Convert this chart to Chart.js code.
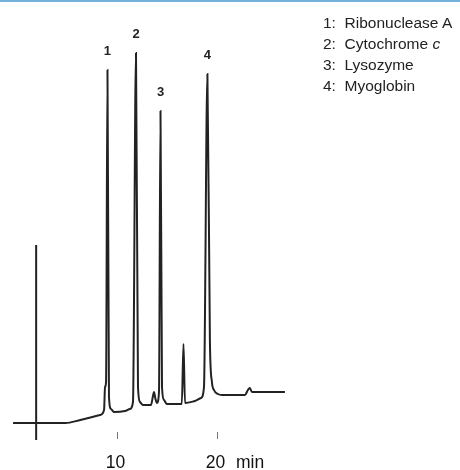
<!DOCTYPE html>
<html>
<head>
<meta charset="utf-8">
<script src="https://cdn.jsdelivr.net/npm/chart.js@4/dist/chart.umd.min.js"></script>
<style>
  html, body { margin: 0; padding: 0; background: #fff; }
  #wrap { position: relative; width: 460px; height: 470px; border-top: 2px solid #72b2dc; box-sizing: border-box; }
  #wrap canvas { position: absolute; left: 0; top: 0; }
  #legend { position: absolute; left: 323px; top: 10px; font-family: "Liberation Sans", Arial, sans-serif; font-size: 15.5px; color: #222; line-height: 21px; }
</style>
</head>
<body>
<div id="wrap">
  <canvas id="chrom" width="460" height="470"></canvas>
  <div id="legend">
    <div>1:&nbsp; Ribonuclease A</div>
    <div>2:&nbsp; Cytochrome <i>c</i></div>
    <div>3:&nbsp; Lysozyme</div>
    <div>4:&nbsp; Myoglobin</div>
  </div>
</div>
<script>
// retention time (min) and detector signal (arbitrary units)
const times = [
  -0.3, 4.9, 6.4, 8.36, 8.76, 8.86, 8.96, 9.1, 9.25, 9.45, 9.75,
  10.85, 11.34, 11.64, 11.94, 12.14, 12.34, 12.64, 13.43, 13.63, 13.73, 13.88, 14.03,
  14.23, 14.38, 14.53, 14.73, 15.02, 16.5, 16.67, 16.82, 17.81, 18.41, 18.71, 19.05,
  19.3, 19.5, 19.7, 20.1, 20.5, 22.79, 23.08, 23.28, 23.48, 26.77,
];
const signal = [
  0, 0, 3, 8, 13, 36, 41, 353, 26, 14, 11,
  12, 14, 21, 370, 36, 21, 18, 18, 27, 31, 24, 20,
  31, 312, 36, 23, 19, 19, 79, 20, 22, 25, 36, 349,
  81, 41, 33, 29, 28, 28, 33, 35, 31, 31,
];
// injection mark
const injTimes = [2.0, 2.0];
const injSignal = [178, -17];

const peakNames = ["1", "2", "3", "4"];
const peakTimes = [9.1, 11.94, 14.38, 19.05];
const peakHeights = [353, 370, 312, 349];
const tickValues = [10, 20];

const points = times.map((t, i) => ({ x: t, y: signal[i] }));
const injPoints = injTimes.map((t, i) => ({ x: t, y: injSignal[i] }));

const extras = {
  id: "extras",
  afterDatasetsDraw(chart) {
    const { ctx, scales } = chart;
    const xs = scales.x, ys = scales.y;
    ctx.save();
    // peak numbers
    ctx.fillStyle = "#222";
    ctx.font = "bold 13px 'Liberation Sans', Arial, sans-serif";
    ctx.textAlign = "center";
    ctx.textBaseline = "middle";
    peakNames.forEach((n, i) => {
      ctx.fillText(n, xs.getPixelForValue(peakTimes[i]), ys.getPixelForValue(peakHeights[i]) - 19);
    });
    // time ticks
    ctx.strokeStyle = "#777";
    ctx.lineWidth = 1;
    ctx.font = "17.5px 'Liberation Sans', Arial, sans-serif";
    ctx.fillStyle = "#111";
    tickValues.forEach(v => {
      const px = Math.round(xs.getPixelForValue(v)) + 0.5;
      ctx.beginPath();
      ctx.moveTo(px, 430);
      ctx.lineTo(px, 437);
      ctx.stroke();
      ctx.fillText(String(v), px - 2, 461);
    });
    ctx.fillText("min", xs.getPixelForValue(23.3), 461);
    ctx.restore();
  },
};

new Chart(document.getElementById("chrom"), {
  type: "line",
  data: {
    datasets: [
      {
        data: points,
        borderColor: "#222",
        borderWidth: 2,
        pointRadius: 0,
        cubicInterpolationMode: "monotone",
        clip: false,
      },
      {
        data: injPoints,
        borderColor: "#222",
        borderWidth: 2,
        pointRadius: 0,
        tension: 0,
        clip: false,
      },
    ],
  },
  options: {
    responsive: false,
    animation: false,
    layout: { padding: { left: 1, right: 2, top: 0, bottom: 0 } },
    plugins: { legend: { display: false }, tooltip: { enabled: false } },
    scales: {
      x: { type: "linear", min: -1.5, max: 44, display: false },
      y: { min: -49, max: 421, display: false },
    },
  },
  plugins: [extras],
});
</script>
</body>
</html>
